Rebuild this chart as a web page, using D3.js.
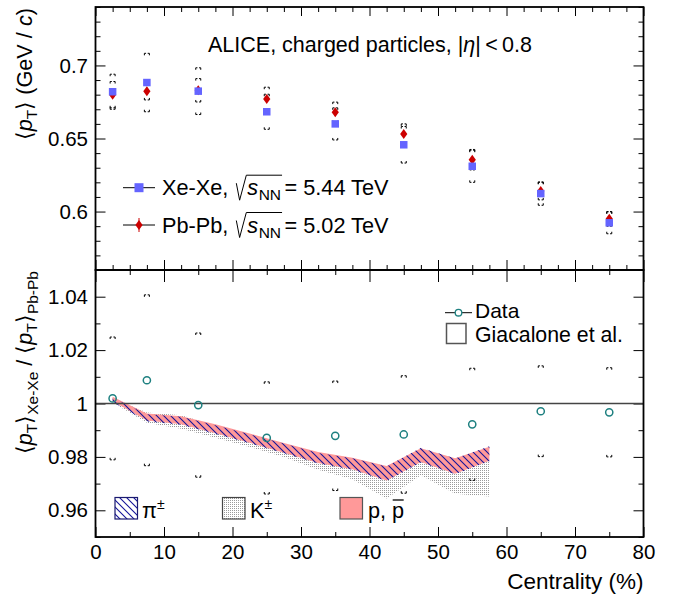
<!DOCTYPE html>
<html>
<head>
<meta charset="utf-8">
<script src="https://cdn.jsdelivr.net/npm/d3@7"></script>
<style>
  body { margin: 0; background: #fff; }
  svg text { font-family: "Liberation Sans", Arial, sans-serif; fill: #000; }
</style>
</head>
<body>
<div id="chart"></div>
<script>
// Centrality classes (%)
const centrality = [2.5, 7.5, 15, 25, 35, 45, 55, 65, 75];

// <pT> (GeV/c) for Xe-Xe and Pb-Pb, with systematic uncertainties
const meanPtXeXe = [0.682, 0.6883, 0.6824, 0.6683, 0.660, 0.6457, 0.631, 0.6123, 0.5923];
const sysXeXe    = [0.012, 0.020, 0.016, 0.012, 0.011, 0.0125, 0.011, 0.008, 0.0075];
const meanPtPbPb = [0.680, 0.6824, 0.683, 0.6771, 0.6679, 0.653, 0.6355, 0.614, 0.595];
const sysPbPb    = [0.009, 0.006, 0.008, 0.008, 0.007, 0.007, 0.007, 0.006, 0.005];
const statPbPb   = [0.0025, 0.0025, 0.0025, 0.002, 0.002, 0.002, 0.002, 0.002, 0.002];

// ratio Xe-Xe / Pb-Pb
const ratioData = [1.0019, 1.0087, 0.9994, 0.9871, 0.9879, 0.9884, 0.9922, 0.9971, 0.9967];
const ratioSys  = [0.023, 0.032, 0.027, 0.021, 0.0205, 0.022, 0.021, 0.017, 0.0167];

// Giacalone et al. bands
const modelCentrality = [2.5, 7.5, 12.5, 17.5, 22.5, 27.5, 32.5, 37.5, 42.5, 47.5, 52.5, 57.5];
const protonHigh = [1.0025, 0.9963, 0.9952, 0.9922, 0.9888, 0.9852, 0.9818, 0.9797, 0.9766, 0.9832, 0.9795, 0.9838];
const protonLow  = [1.0008, 0.9936, 0.9922, 0.9889, 0.9853, 0.9816, 0.9777, 0.9754, 0.9712, 0.9781, 0.9737, 0.9786];
const pionHigh   = [1.0022, 0.9960, 0.9950, 0.9919, 0.9885, 0.9850, 0.9815, 0.9795, 0.9764, 0.9834, 0.9794, 0.9840];
const pionLow    = [1.0006, 0.9933, 0.9920, 0.9886, 0.9851, 0.9814, 0.9775, 0.9752, 0.9710, 0.9779, 0.9735, 0.9784];
const kaonHigh   = [1.0020, 0.9966, 0.9956, 0.9918, 0.9882, 0.9846, 0.9810, 0.9788, 0.9745, 0.9795, 0.9755, 0.9785];
const kaonLow    = [1.0004, 0.9928, 0.9905, 0.9872, 0.9837, 0.9800, 0.9752, 0.9716, 0.9644, 0.9731, 0.9662, 0.9652];

// tick labels
const xTickValues = [0, 10, 20, 30, 40, 50, 60, 70, 80];
const topYTickValues = [0.6, 0.65, 0.7];
const bottomYTickValues = [0.96, 0.98, 1, 1.02, 1.04];

const W = 675, H = 609;
const padL = 95.5, padR = 643.5, padT = 7, padMid = 270, padB = 537;
const fs = 21.7; // text size

const svg = d3.select("#chart").append("svg")
    .attr("width", W).attr("height", H);

const defs = svg.append("defs");
// hatch for pions
const hatch = defs.append("pattern").attr("id", "hatchPion")
    .attr("patternUnits", "userSpaceOnUse").attr("width", 7).attr("height", 7);
hatch.append("path").attr("d", "M0,0 L7,7 M-1,6 L1,8 M6,-1 L8,1")
    .attr("stroke", "#15159a").attr("stroke-width", 1.1);
// fine dots for kaons
const dots = defs.append("pattern").attr("id", "dotsKaon")
    .attr("patternUnits", "userSpaceOnUse").attr("width", 2).attr("height", 2);
dots.append("rect").attr("width", 1).attr("height", 1).attr("fill", "#9a9a9a");

// scales
const x = d3.scaleLinear().domain([0, 80]).range([padL, padR]);
const yTop = d3.scaleLinear().domain([0.56, 0.74]).range([padMid, padT]);
const yBot = d3.scaleLinear().domain([0.95, 1.05]).range([padB, padMid]);

// tick helper: inward ticks on all 4 sides
function frameTicks(yScale, yMajor, yMinor, xMinorStep, y0, y1, topLen) {
    const xMinor = d3.range(0, 80.01, xMinorStep).filter(v => v % 10 !== 0);
    const styleAxis = g => {
        g.select(".domain").remove();
        g.selectAll("line").attr("stroke", "#000").attr("stroke-width", 1);
        g.selectAll("text").attr("font-family", "Liberation Sans, Arial, sans-serif")
            .attr("font-size", 20.5).attr("fill", "#000");
    };
    svg.append("g").attr("transform", `translate(${padL},0)`)
        .call(d3.axisLeft(yScale).tickValues(yMajor).tickSize(-10).tickPadding(7.5).tickFormat(d => String(d)))
        .call(styleAxis);
    svg.append("g").attr("transform", `translate(${padL},0)`)
        .call(d3.axisLeft(yScale).tickValues(yMinor).tickSize(-5).tickFormat(""))
        .call(styleAxis);
    svg.append("g").attr("transform", `translate(${padR},0)`)
        .call(d3.axisRight(yScale).tickValues(yMajor).tickSize(-10).tickFormat(""))
        .call(styleAxis);
    svg.append("g").attr("transform", `translate(${padR},0)`)
        .call(d3.axisRight(yScale).tickValues(yMinor).tickSize(-5).tickFormat(""))
        .call(styleAxis);
    svg.append("g").attr("transform", `translate(0,${y1})`)
        .call(d3.axisTop(x).tickValues(xTickValues).tickSize(-topLen).tickFormat(""))
        .call(styleAxis);
    svg.append("g").attr("transform", `translate(0,${y1})`)
        .call(d3.axisTop(x).tickValues(xMinor).tickSize(-5).tickFormat(""))
        .call(styleAxis);
    svg.append("g").attr("transform", `translate(0,${y0})`)
        .call(d3.axisBottom(x).tickValues(xTickValues).tickSize(-10).tickFormat(""))
        .call(styleAxis);
    svg.append("g").attr("transform", `translate(0,${y0})`)
        .call(d3.axisBottom(x).tickValues(xMinor).tickSize(-5).tickFormat(""))
        .call(styleAxis);
}

frameTicks(yTop, topYTickValues,
    d3.range(0.56, 0.7401, 0.01).map(v => +v.toFixed(2)).filter(v => !topYTickValues.includes(v)),
    2.5, padMid, padT, 9);
frameTicks(yBot, bottomYTickValues,
    d3.range(0.95, 1.0501, 0.01).map(v => +v.toFixed(2)).filter(v => !bottomYTickValues.includes(v)),
    5, padB, padMid, 12);

// x tick labels at the bottom
svg.append("g").attr("transform", `translate(0,${padB})`)
    .call(d3.axisBottom(x).tickValues(xTickValues).tickSize(0).tickPadding(7).tickFormat(d => d))
    .call(g => {
        g.select(".domain").remove();
        g.selectAll("text").attr("font-family", "Liberation Sans, Arial, sans-serif")
            .attr("font-size", 20.5).attr("fill", "#000");
    });

// systematic brackets
function bracket(g, cx, y1, y2) {
    const d = `M${cx - 2.5},${y1 + 2} V${y1} H${cx - 0.8} M${cx + 0.8},${y1} H${cx + 2.5} V${y1 + 2}` +
              `M${cx - 2.5},${y2 - 2} V${y2} H${cx - 0.8} M${cx + 0.8},${y2} H${cx + 2.5} V${y2 - 2}`;
    g.append("path").attr("d", d).attr("fill", "none").attr("stroke", "#000").attr("stroke-width", 1);
}

// ---------- top panel ----------
const topG = svg.append("g");
centrality.forEach((c, i) => {
    bracket(topG, x(c), yTop(meanPtXeXe[i] + sysXeXe[i]), yTop(meanPtXeXe[i] - sysXeXe[i]));
    bracket(topG, x(c), yTop(meanPtPbPb[i] + sysPbPb[i]), yTop(meanPtPbPb[i] - sysPbPb[i]));
});

function diamond(g, cx, cy) {
    g.append("path").attr("d", `M${cx},${cy - 5} L${cx + 3.6},${cy} L${cx},${cy + 5} L${cx - 3.6},${cy} Z`)
        .attr("fill", "#cc0000");
}
function square(g, cx, cy, s) {
    g.append("rect").attr("x", cx - s / 2).attr("y", cy - s / 2).attr("width", s).attr("height", s)
        .attr("fill", "#6464ff");
}

// Pb-Pb diamonds with stat errors
centrality.forEach((c, i) => {
    topG.append("line").attr("x1", x(c)).attr("x2", x(c))
        .attr("y1", yTop(meanPtPbPb[i] + statPbPb[i])).attr("y2", yTop(meanPtPbPb[i] - statPbPb[i]))
        .attr("stroke", "#cc0000").attr("stroke-width", 1);
    diamond(topG, x(c), yTop(meanPtPbPb[i]));
});
// Xe-Xe squares on top
centrality.forEach((c, i) => square(topG, x(c), yTop(meanPtXeXe[i]), 7.5));

// title
const title = svg.append("text").attr("x", 208).attr("y", 52).attr("font-size", 21.5);
title.append("tspan").text("ALICE, charged particles, |");
title.append("tspan").attr("font-style", "italic").text("η");
title.append("tspan").text("|\u2009<\u20090.8");

// legend with sqrt(s_NN)
function sqrtEntry(y, label, energy, marker) {
    svg.append("line").attr("x1", 123).attr("x2", 155).attr("y1", y).attr("y2", y)
        .attr("stroke", "#000").attr("stroke-width", 1);
    marker(139, y);
    const b = y + 7.5;
    const t = svg.append("text").attr("x", 162).attr("y", b).attr("font-size", fs).text(label + ",");
    const x0 = 162 + t.node().getComputedTextLength() + 8;
    const s = svg.append("text").attr("x", x0 + 11).attr("y", b).attr("font-size", fs)
        .attr("font-style", "italic").text("s");
    const xs = x0 + 11 + s.node().getComputedTextLength() + 0.5;
    const nn = svg.append("text").attr("x", xs).attr("y", b + 5).attr("font-size", 15.5).text("NN");
    const xEnd = xs + nn.node().getComputedTextLength() + 1;
    svg.append("path").attr("d", `M${x0},${b - 12} L${x0 + 3.3},${b + 5} L${x0 + 10},${b - 20} H${xEnd}`)
        .attr("fill", "none").attr("stroke", "#000").attr("stroke-width", 1);
    svg.append("text").attr("x", xEnd + 2.5).attr("y", b).attr("font-size", fs)
        .text("= " + energy + " TeV");
}
sqrtEntry(187.7, "Xe-Xe", "5.44", (cx, cy) => square(svg, cx, cy, 9));
sqrtEntry(225, "Pb-Pb", "5.02", (cx, cy) => {
    svg.append("line").attr("x1", cx).attr("x2", cx).attr("y1", cy - 7).attr("y2", cy + 7)
        .attr("stroke", "#cc0000");
    diamond(svg, cx, cy);
});

// ---------- bottom panel ----------
const botG = svg.append("g");
const area = (lo, hi) => d3.area()
    .x((d, i) => x(modelCentrality[i]))
    .y0((d, i) => yBot(lo[i]))
    .y1((d, i) => yBot(hi[i]));

botG.append("path").datum(modelCentrality).attr("d", area(kaonLow, kaonHigh)).attr("fill", "url(#dotsKaon)");
botG.append("path").datum(modelCentrality).attr("d", area(protonLow, protonHigh)).attr("fill", "#ff9999");
botG.append("path").datum(modelCentrality).attr("d", area(pionLow, pionHigh)).attr("fill", "url(#hatchPion)");

// line at unity
botG.append("line").attr("x1", padL).attr("x2", padR).attr("y1", yBot(1)).attr("y2", yBot(1))
    .attr("stroke", "#444").attr("stroke-width", 1.5);

centrality.forEach((c, i) => {
    bracket(botG, x(c), yBot(ratioData[i] + ratioSys[i]), yBot(ratioData[i] - ratioSys[i]));
});
botG.selectAll("circle.data").data(centrality).enter().append("circle")
    .attr("cx", d => x(d)).attr("cy", (d, i) => yBot(ratioData[i])).attr("r", 3.6)
    .attr("fill", "none").attr("stroke", "#1e8080").attr("stroke-width", 1.5);

// legend top right
svg.append("line").attr("x1", 445).attr("x2", 472).attr("y1", 312.7).attr("y2", 312.7).attr("stroke", "#000");
svg.append("circle").attr("cx", 458.5).attr("cy", 312.7).attr("r", 3.3).attr("fill", "#fff")
    .attr("stroke", "#1e8080").attr("stroke-width", 1.3);
svg.append("text").attr("x", 475).attr("y", 318).attr("font-size", 21).text("Data");
svg.append("rect").attr("x", 446.5).attr("y", 323.5).attr("width", 19.5).attr("height", 20)
    .attr("fill", "#fff").attr("stroke", "#555").attr("stroke-width", 1.5);
svg.append("text").attr("x", 475).attr("y", 342).attr("font-size", 21.3).text("Giacalone et al.");

// legend bottom
function bandBox(bx, fill, stroke) {
    svg.append("rect").attr("x", bx).attr("y", 497.5).attr("width", 22.5).attr("height", 21.5)
        .attr("fill", "#fff");
    svg.append("rect").attr("x", bx).attr("y", 497.5).attr("width", 22.5).attr("height", 21.5)
        .attr("fill", fill).attr("stroke", stroke).attr("stroke-width", 1.2);
}
bandBox(115, "url(#hatchPion)", "#1a1a70");
bandBox(222.5, "url(#dotsKaon)", "#444");
bandBox(340, "#ff9999", "#555");

const piT = svg.append("text").attr("x", 142).attr("y", 518).attr("font-size", fs);
piT.append("tspan").text("π");
piT.append("tspan").attr("font-size", 14).attr("dy", -9).text("±");
const kT = svg.append("text").attr("x", 250).attr("y", 518).attr("font-size", fs);
kT.append("tspan").text("K");
kT.append("tspan").attr("font-size", 14).attr("dy", -9).text("±");
const pT = svg.append("text").attr("x", 368).attr("y", 518).attr("font-size", fs).text("p, p");
const pW = pT.node().getComputedTextLength();
svg.append("line").attr("x1", 368 + pW - 11.5).attr("x2", 368 + pW - 0.5)
    .attr("y1", 500).attr("y2", 500).attr("stroke", "#000").attr("stroke-width", 1.3);

// frames
svg.append("rect").attr("x", padL).attr("y", padT).attr("width", padR - padL).attr("height", padMid - padT)
    .attr("fill", "none").attr("stroke", "#000").attr("stroke-width", 1.8);
svg.append("rect").attr("x", padL).attr("y", padMid).attr("width", padR - padL).attr("height", padB - padMid)
    .attr("fill", "none").attr("stroke", "#000").attr("stroke-width", 1.8);

// axis titles
svg.append("text").attr("x", padR).attr("y", 589).attr("text-anchor", "end")
    .attr("font-size", 22.5).text("Centrality (%)");

const yt1 = svg.append("text").attr("text-anchor", "end").attr("font-size", fs)
    .attr("transform", `translate(32,${padT + 1}) rotate(-90)`);
yt1.append("tspan").text("⟨");
yt1.append("tspan").attr("font-style", "italic").text("p");
yt1.append("tspan").attr("font-size", 15.5).attr("dy", 5).text("T");
yt1.append("tspan").attr("dy", -5).text("⟩ (GeV / ");
yt1.append("tspan").attr("font-style", "italic").text("c");
yt1.append("tspan").text(")");

const yt2 = svg.append("text").attr("text-anchor", "end").attr("font-size", fs)
    .attr("transform", `translate(32,${padMid + 1}) rotate(-90)`);
yt2.append("tspan").text("⟨");
yt2.append("tspan").attr("font-style", "italic").text("p");
yt2.append("tspan").attr("font-size", 15.5).attr("dy", 5).text("T");
yt2.append("tspan").attr("dy", -5).text("⟩");
yt2.append("tspan").attr("font-size", 15.5).attr("dy", 6).text("Xe-Xe");
yt2.append("tspan").attr("dy", -6).text(" / ⟨");
yt2.append("tspan").attr("font-style", "italic").text("p");
yt2.append("tspan").attr("font-size", 15.5).attr("dy", 5).text("T");
yt2.append("tspan").attr("dy", -5).text("⟩");
yt2.append("tspan").attr("font-size", 15.5).attr("dy", 6).text("Pb-Pb");
</script>
</body>
</html>
